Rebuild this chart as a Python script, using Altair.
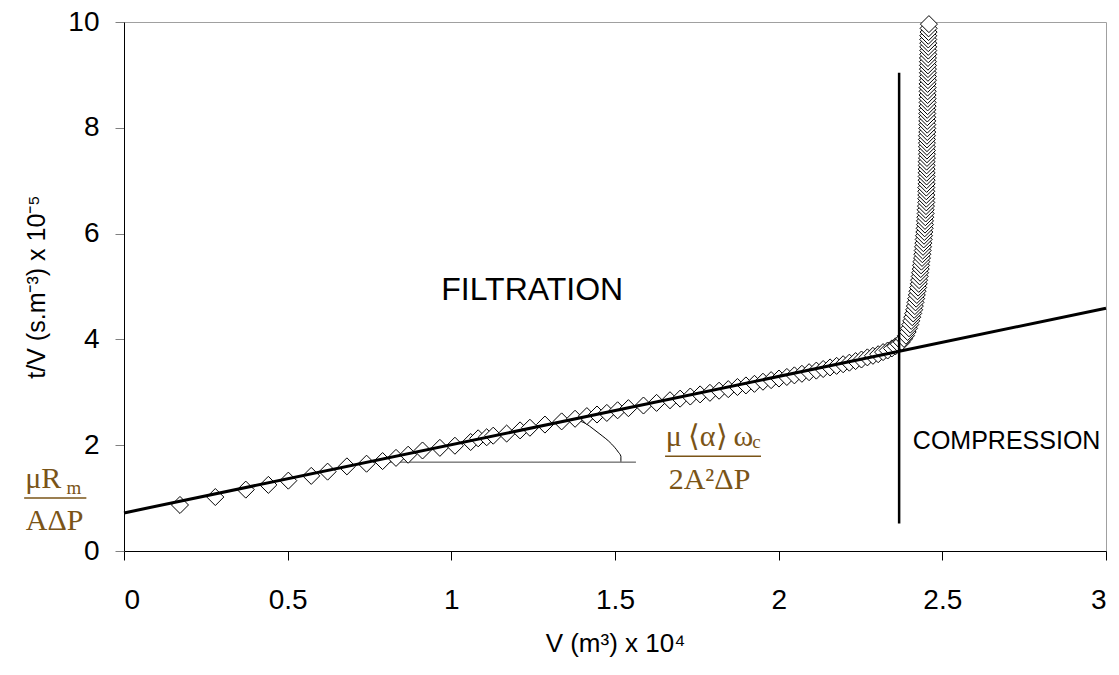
import altair as alt
import pandas as pd

# ---- measured data (V x 1e4, t/V x 1e-5) ----
filt_x = [0.171, 0.279, 0.372, 0.441, 0.502, 0.572, 0.622, 0.681, 0.741, 0.790,
          0.831, 0.868, 0.912, 0.965, 1.011, 1.059, 1.082, 1.108, 1.128, 1.169,
          1.210, 1.240, 1.286, 1.337, 1.378, 1.414, 1.445, 1.475, 1.508, 1.541,
          1.587, 1.627, 1.668, 1.699, 1.730, 1.760, 1.790, 1.818, 1.846, 1.874,
          1.900, 1.926, 1.952, 1.977, 2.001, 2.025, 2.048, 2.071, 2.093, 2.115,
          2.136, 2.157, 2.177, 2.197, 2.216, 2.235, 2.253, 2.271, 2.288, 2.304,
          2.319, 2.333, 2.346, 2.357, 2.367]
filt_y = [0.87, 1.02, 1.16, 1.25, 1.33, 1.42, 1.50, 1.60, 1.65, 1.70,
          1.76, 1.82, 1.90, 1.95, 1.99, 2.06, 2.13, 2.15, 2.18, 2.22,
          2.28, 2.33, 2.39, 2.45, 2.50, 2.55, 2.58, 2.61, 2.66, 2.70,
          2.75, 2.80, 2.85, 2.88, 2.92, 2.96, 2.99, 3.03, 3.06, 3.10,
          3.13, 3.16, 3.20, 3.23, 3.26, 3.29, 3.32, 3.35, 3.38, 3.41,
          3.44, 3.47, 3.50, 3.53, 3.56, 3.59, 3.62, 3.66, 3.69, 3.72,
          3.76, 3.79, 3.83, 3.87, 3.91]
comp_x = [2.376, 2.383, 2.389, 2.394, 2.398, 2.402, 2.405, 2.408, 2.411, 2.414,
          2.416, 2.418, 2.420, 2.422, 2.424, 2.426, 2.428, 2.429, 2.431, 2.432,
          2.434, 2.435, 2.436, 2.438, 2.439, 2.440, 2.441, 2.442, 2.443, 2.444,
          2.445, 2.446, 2.447, 2.447, 2.448, 2.449, 2.449, 2.450,
          2.451, 2.451, 2.451, 2.451, 2.451,
          2.452, 2.452, 2.452, 2.452, 2.452, 2.452, 2.452,
          2.453, 2.453, 2.453, 2.453, 2.453, 2.453, 2.453,
          2.454, 2.454, 2.454, 2.454, 2.454, 2.454, 2.454,
          2.455, 2.455, 2.455, 2.455, 2.455, 2.455, 2.455,
          2.456, 2.456, 2.456, 2.456, 2.456, 2.456, 2.456,
          2.457, 2.457, 2.457, 2.457, 2.457, 2.457,
          2.458, 2.458, 2.459]
comp_y = [3.95, 4.01, 4.07, 4.14, 4.21, 4.28, 4.35, 4.42, 4.49, 4.56,
          4.63, 4.70, 4.77, 4.84, 4.91, 4.98, 5.05, 5.12, 5.19, 5.26,
          5.33, 5.40, 5.47, 5.54, 5.61, 5.68, 5.75, 5.82, 5.89, 5.96,
          6.03, 6.10, 6.17, 6.24, 6.31, 6.38, 6.45, 6.52,
          6.59, 6.66, 6.73, 6.80, 6.87,
          6.94, 7.01, 7.08, 7.15, 7.22, 7.29, 7.36,
          7.43, 7.50, 7.57, 7.64, 7.71, 7.78, 7.85,
          7.92, 7.99, 8.06, 8.13, 8.20, 8.27, 8.34,
          8.41, 8.48, 8.55, 8.62, 8.69, 8.76, 8.83,
          8.90, 8.97, 9.04, 9.11, 9.18, 9.25, 9.32,
          9.39, 9.46, 9.53, 9.60, 9.67, 9.74,
          9.81, 9.88, 9.96]

# linear filtration fit
fit_x = [0.0, 3.0]
fit_y = [0.72, 4.59]

# vertical separator filtration / compression
split_x = [2.368, 2.368]
split_y = [0.52, 9.04]

# slope construction (horizontal base + angle arc)
base_x = [0.744, 1.564]
base_y = [1.68, 1.68]
arc_x = [1.381, 1.413, 1.433, 1.454, 1.490, 1.510, 1.518, 1.518]
arc_y = [2.48, 2.40, 2.31, 2.21, 2.02, 1.87, 1.79, 1.69]

x_ticks = [0, 0.5, 1, 1.5, 2, 2.5, 3]
y_ticks = [0, 2, 4, 6, 8, 10]

BROWN = "#7a5417"
SANS = "Liberation Sans"
SERIF = "Liberation Serif"

pts = pd.DataFrame({"x": filt_x + comp_x, "y": filt_y + comp_y})
pts["order"] = range(len(pts))
fit = pd.DataFrame({"x": fit_x, "y": fit_y})
split = pd.DataFrame({"x": split_x, "y": split_y})
base = pd.DataFrame({"x": base_x, "y": base_y})
arc = pd.DataFrame({"x": arc_x, "y": arc_y})
arc["order"] = range(len(arc))

xs = alt.Scale(domain=[0, 3], nice=False, zero=False)
ys = alt.Scale(domain=[0, 10], nice=False, zero=False)

x_axis = alt.Axis(values=x_ticks, labelExpr="toString(datum.value)", grid=False,
                  tickSize=9, tickColor="black", domainColor="black",
                  labelFontSize=28, labelFont=SANS, labelColor="black",
                  labelPadding=26, title="V (m³) x 10⁴", titleFont=SANS,
                  titleFontSize=26, titleFontWeight="normal", titleColor="black",
                  titlePadding=16)
y_axis = alt.Axis(values=y_ticks, labelExpr="toString(datum.value)", grid=False,
                  tickSize=9, tickColor="#808080", domainColor="black",
                  labelFontSize=28, labelFont=SANS, labelColor="black",
                  labelPadding=16, title="t/V (s.m⁻³) x 10⁻⁵", titleFont=SANS,
                  titleFontSize=25, titleFontWeight="normal", titleColor="black",
                  titlePadding=18)


def X():
    return alt.X("x:Q", scale=xs, axis=x_axis)


def Y():
    return alt.Y("y:Q", scale=ys, axis=y_axis)


base_layer = alt.Chart(base).mark_line(color="#404040", strokeWidth=1).encode(
    x=X(), y=Y())
arc_layer = alt.Chart(arc).mark_line(color="black", strokeWidth=1,
                                     interpolate="monotone").encode(
    x=X(), y=Y(), order="order:Q")
pts_layer = alt.Chart(pts).mark_point(shape="diamond", size=290, filled=True,
                                      fill="white", stroke="black",
                                      strokeWidth=1, opacity=1).encode(
    x=X(), y=Y(), order="order:Q")
fit_layer = alt.Chart(fit).mark_line(color="black", strokeWidth=3).encode(
    x=X(), y=Y())
split_layer = alt.Chart(split).mark_line(color="black", strokeWidth=2.5).encode(
    x=X(), y=Y())


def label(txt, x, y, size, font=SANS, color="black", align="left",
          baseline="alphabetic"):
    df = pd.DataFrame({"x": [x], "y": [y], "t": [txt]})
    return alt.Chart(df).mark_text(font=font, fontSize=size, color=color,
                                   align=align, baseline=baseline).encode(
        x=X(), y=Y(), text="t:N")


def bar(x1, x2, y):
    df = pd.DataFrame({"x": [x1], "x2": [x2], "y": [y]})
    return alt.Chart(df).mark_rule(color=BROWN, strokeWidth=1.5).encode(
        x=X(), x2="x2:Q", y=Y())


layers = [
    base_layer, arc_layer, pts_layer, fit_layer, split_layer,
    label("FILTRATION", 1.247, 4.94, 32, align="center", baseline="middle"),
    label("COMPRESSION", 2.41, 2.07, 25, baseline="middle"),
    # left formula: mu R_m / (A dP)
    label("μR", -0.302, 1.20, 30, font=SERIF, color=BROWN),
    label("m", -0.176, 1.07, 19, font=SERIF, color=BROWN),
    bar(-0.305, -0.115, 1.00),
    label("AΔP", -0.300, 0.40, 30, font=SERIF, color=BROWN),
    # right formula: mu<alpha>omega_c / (2 A^2 dP)
    label("μ\u2009⟨α⟩\u2009ω", 1.655, 1.99, 30, font=SERIF, color=BROWN),
    label("c", 1.919, 1.95, 19, font=SERIF, color=BROWN),
    bar(1.653, 1.946, 1.79),
    label("2A²ΔP", 1.664, 1.18, 30, font=SERIF, color=BROWN),
]

chart = alt.layer(*layers).properties(
    width=982, height=529,
    autosize=alt.AutoSizeParams(type="none"),
    padding={"left": 116, "top": 14, "right": 5, "bottom": 112},
).configure_view(stroke="#a0a0a0", strokeWidth=1)

chart.save("out.html", embed_options={"renderer": "svg", "actions": False})
